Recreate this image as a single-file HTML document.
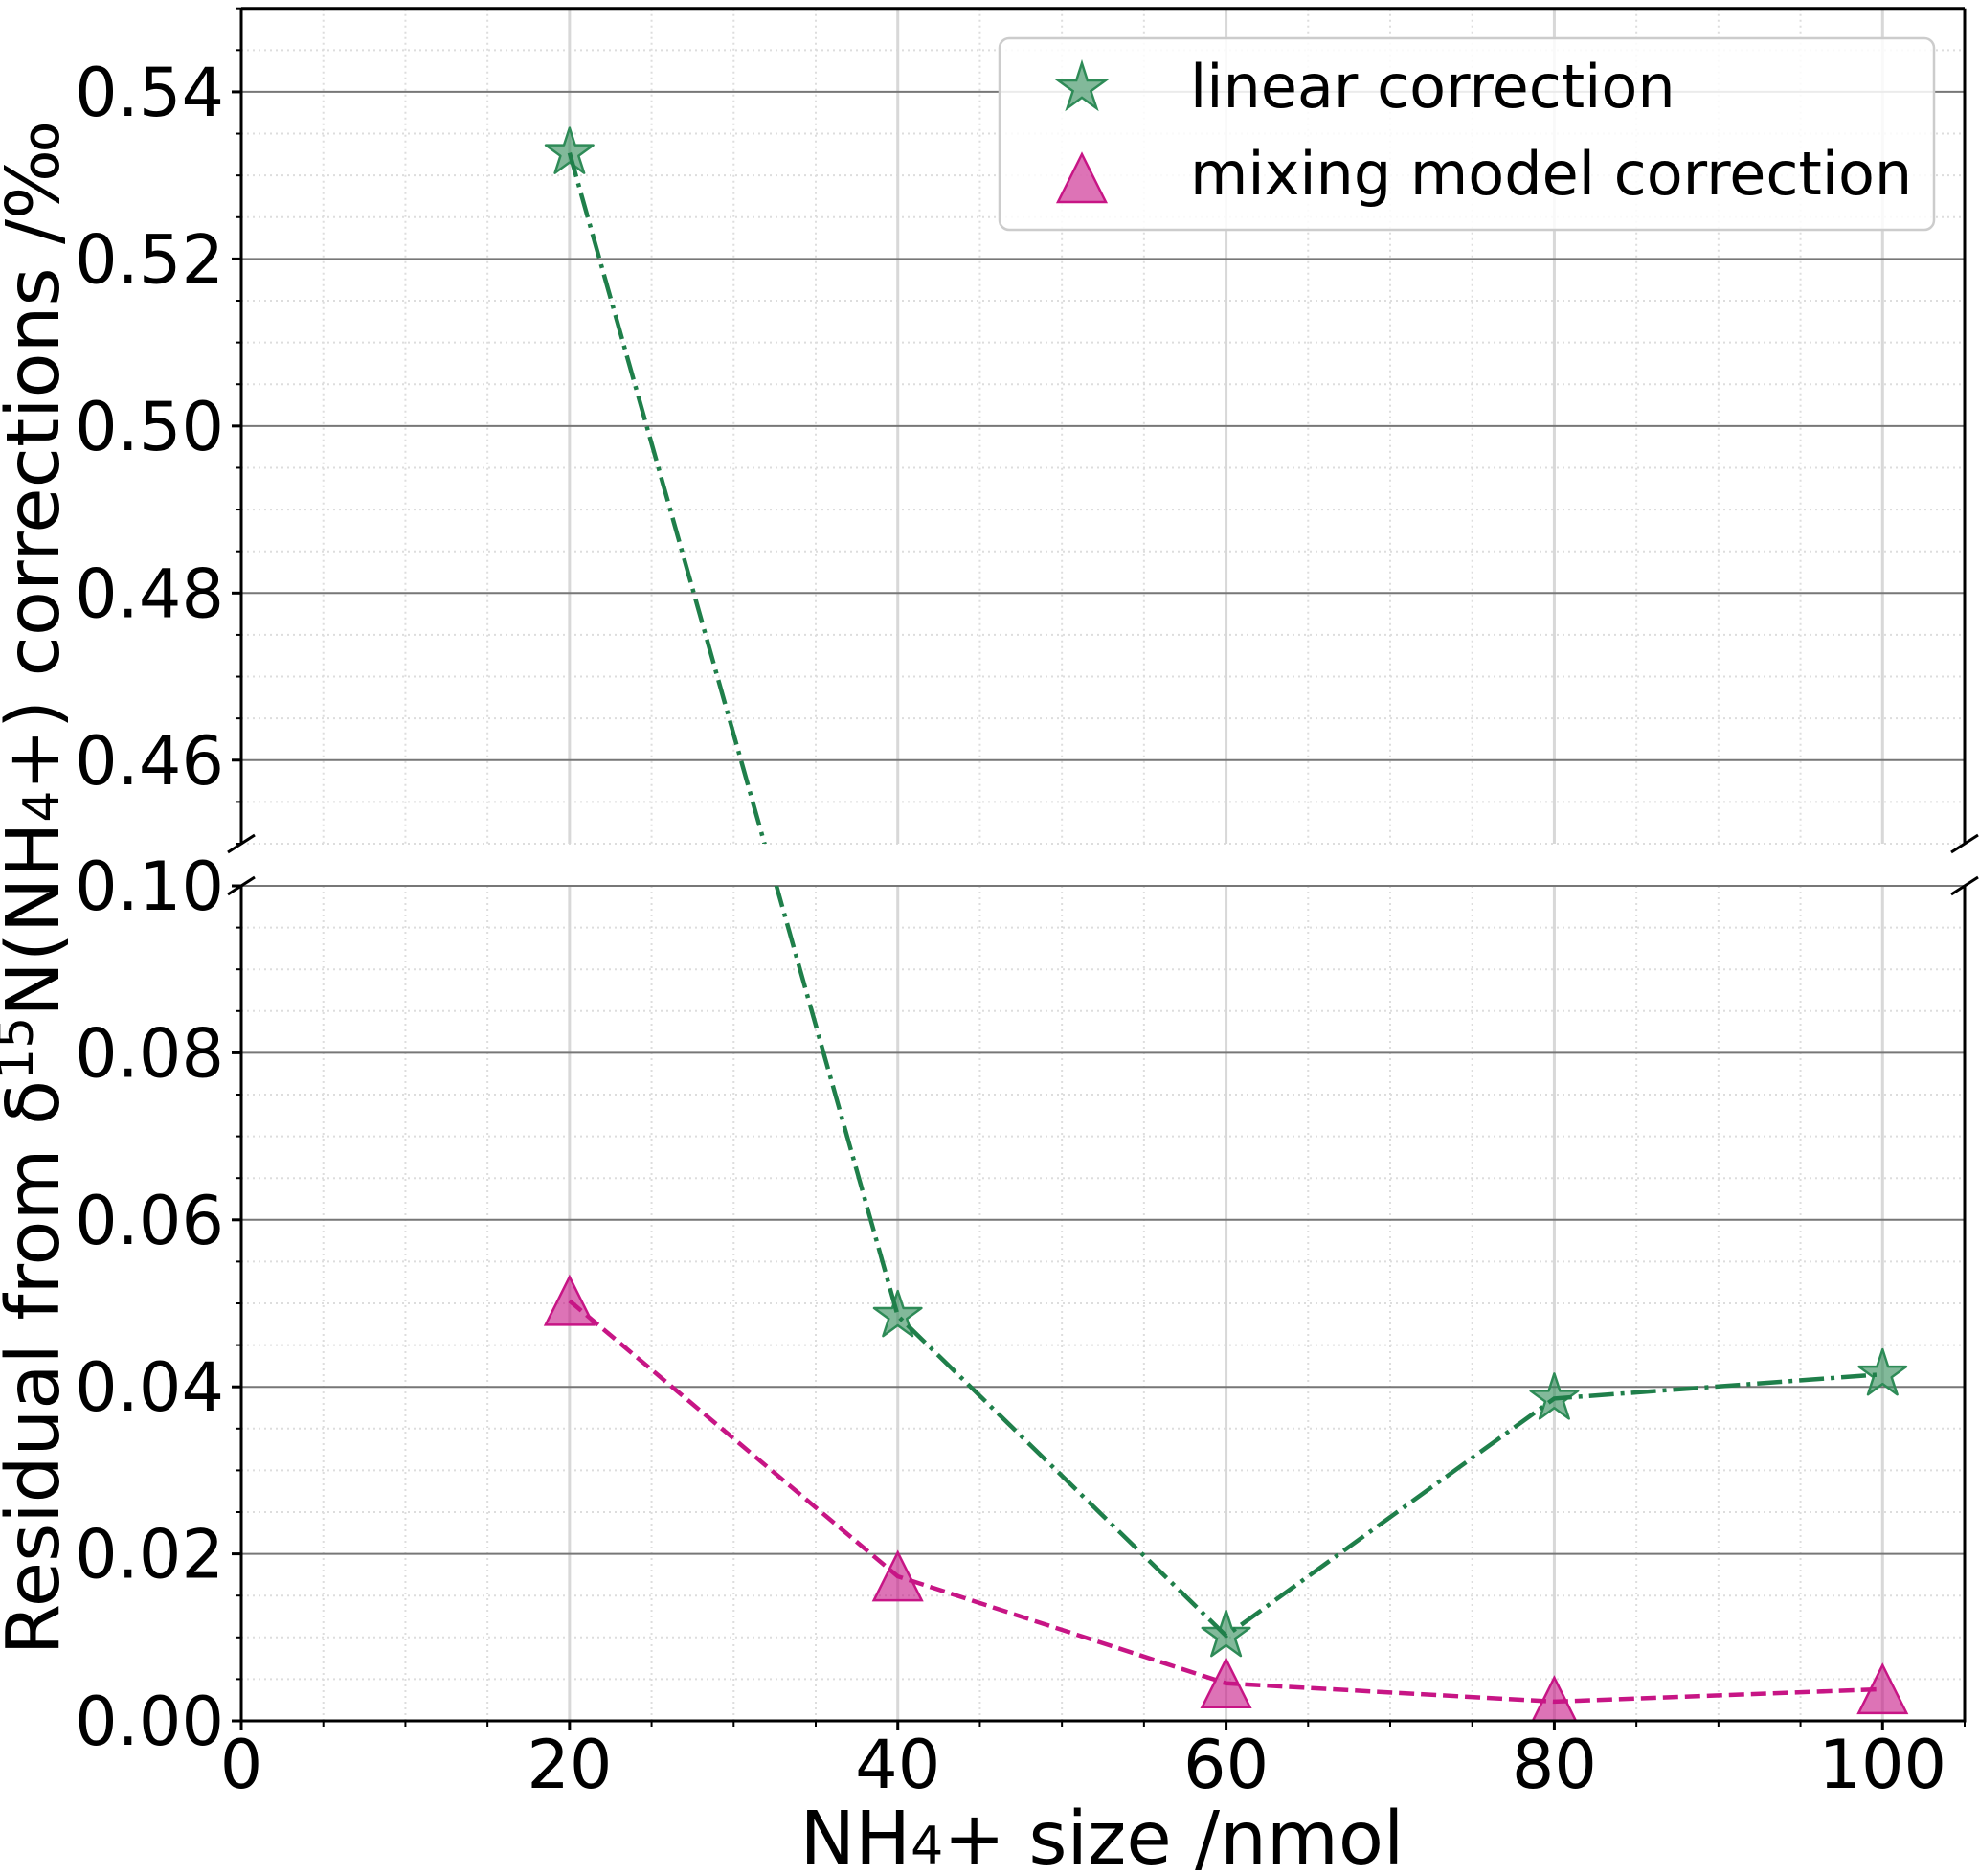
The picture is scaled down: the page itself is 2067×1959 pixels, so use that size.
<!DOCTYPE html>
<html><head><meta charset="utf-8"><style>
html,body{margin:0;padding:0;background:#fff;overflow:hidden;width:2067px;height:1959px}
svg{display:block}
text{font-family:"DejaVu Sans","Liberation Sans",sans-serif;fill:#000}
</style></head><body>
<svg id="chart" width="2067" height="1959" viewBox="0 0 2067 1959" xmlns="http://www.w3.org/2000/svg">
<defs>
<clipPath id="clipU"><rect x="252" y="8.7" width="1800" height="872.3"/></clipPath>
<clipPath id="clipL"><rect x="252" y="925" width="1800" height="872"/></clipPath>
</defs>
<g id="grid"></g>
<g id="series"></g>
<g id="axes"></g>
<text font-size="77" text-anchor="middle" transform="translate(61,927) rotate(-90)">Residual from δ<tspan font-size="52" dy="-27">15</tspan><tspan dy="27">N(NH</tspan><tspan font-size="52">4</tspan>+) corrections /‰</text>
<text font-size="77" text-anchor="middle" x="1151" y="1946">NH<tspan font-size="54">4</tspan>+ size /nmol</text>
<g>
<rect x="1044" y="40" width="976" height="200" rx="10" fill="#fff" fill-opacity="0.85" stroke="#ccc" stroke-width="2.5"/>
<g>
<path id="legStar" fill="#2e8b57" fill-opacity="0.6" stroke="#2e8b57" stroke-width="2.5"/>
<text font-size="62" x="1243" y="112">linear correction</text>
</g>
<g>
<path id="legTri" fill="#c71585" fill-opacity="0.6" stroke="#c71585" stroke-width="2.5"/>
<text font-size="62" x="1243" y="203">mixing model correction</text>
</g>
</g>
</svg>
<script>
const categories = [20, 40, 60, 80, 100];
const linearValues = [0.5327, 0.0485, 0.0102, 0.0386, 0.0415];
const mixingValues = [0.0503, 0.0173, 0.0045, 0.0023, 0.0038];
const xTickLabels = ["0", "20", "40", "60", "80", "100"];
const upperTickLabels = ["0.46", "0.48", "0.50", "0.52", "0.54"];
const lowerTickLabels = ["0.00", "0.02", "0.04", "0.06", "0.08", "0.10"];

const NS = "http://www.w3.org/2000/svg";
const X0 = 252, X1 = 2052, XMIN = 0, XMAX = 105;
const UT = 8.7, UB = 881, UMIN = 0.45, UMAX = 0.55;
const LT = 925, LB = 1797, LMIN = 0, LMAX = 0.10;
function xs(v){ return X0 + (v - XMIN) / (XMAX - XMIN) * (X1 - X0); }
function yu(v){ return UB - (v - UMIN) / (UMAX - UMIN) * (UB - UT); }
function yl(v){ return LB - (v - LMIN) / (LMAX - LMIN) * (LB - LT); }
function yb(v){ return v >= (UMIN + LMAX) / 2 ? yu(v) : yl(v); }
function mk(tag, attrs, parent){
  const e = document.createElementNS(NS, tag);
  for (const k in attrs) e.setAttribute(k, attrs[k]);
  parent.appendChild(e); return e;
}
const grid = document.getElementById('grid');
const series = document.getElementById('series');
const axes = document.getElementById('axes');

for (let v = 0; v <= 105; v += 5) {
  if (v % 20 === 0) continue;
  [[UT,UB],[LT,LB]].forEach(p => {
    const l = mk('line', {x1: xs(v), x2: xs(v), y1: p[0], y2: p[1], stroke: '#ddd', 'stroke-width': 2, 'stroke-dasharray': '2,4'}, grid);
    
    
  });
}
for (let i = 0; i <= 20; i++) {
  const vu = UMIN + i * 0.005, vl = LMIN + i * 0.005;
  if (Math.round(vu * 1000) % 20 !== 0) {
    const l = mk('line', {x1: X0, x2: X1, y1: yu(vu), y2: yu(vu), stroke: '#ddd', 'stroke-width': 2, 'stroke-dasharray': '2,4'}, grid);
    
    
  }
  if (Math.round(vl * 1000) % 20 !== 0) {
    const l = mk('line', {x1: X0, x2: X1, y1: yl(vl), y2: yl(vl), stroke: '#ddd', 'stroke-width': 2, 'stroke-dasharray': '2,4'}, grid);
    
    
  }
}
xTickLabels.forEach(t => {
  const v = +t;
  [[UT,UB],[LT,LB]].forEach(p => {
    const l = mk('line', {x1: xs(v), x2: xs(v), y1: p[0], y2: p[1], stroke: '#d8d8d8', 'stroke-width': 3}, grid);
    
    
  });
});
upperTickLabels.forEach(t => {
  const l = mk('line', {x1: X0, x2: X1, y1: yu(+t), y2: yu(+t), stroke: '#777', 'stroke-width': 2}, grid);
  
  
});
lowerTickLabels.forEach(t => {
  const l = mk('line', {x1: X0, x2: X1, y1: yl(+t), y2: yl(+t), stroke: '#777', 'stroke-width': 2}, grid);
  
  
});

function starPath(cx, cy, R){
  const r = R * 0.381966; let d = '';
  for (let i = 0; i < 10; i++) {
    const a = -Math.PI/2 + i * Math.PI/5, rr = i % 2 ? r : R;
    d += (i ? 'L' : 'M') + (cx + rr*Math.cos(a)).toFixed(1) + ',' + (cy + rr*Math.sin(a)).toFixed(1);
  }
  return d + 'Z';
}
function triPath(cx, cy, h){
  return 'M' + cx + ',' + (cy - h) + 'L' + (cx - h) + ',' + (cy + h) + 'L' + (cx + h) + ',' + (cy + h) + 'Z';
}
const ptsL = categories.map((c, i) => xs(c).toFixed(1) + ',' + yb(linearValues[i]).toFixed(1)).join(' ');
const ptsM = categories.map((c, i) => xs(c).toFixed(1) + ',' + yb(mixingValues[i]).toFixed(1)).join(' ');
[['clipU', 'upper'], ['clipL', 'lower']].forEach(([clip, nm]) => {
  const g = mk('g', {'clip-path': 'url(#' + clip + ')'}, series);
  
  
  categories.forEach((c, i) => {
    const s = mk('path', {d: starPath(xs(c), yb(linearValues[i]), 26), fill: '#2e8b57', 'fill-opacity': 0.6, stroke: '#2e8b57', 'stroke-width': 2.5, 'stroke-linejoin': 'round'}, g);
    
    
  });
  categories.forEach((c, i) => {
    const t = mk('path', {d: triPath(xs(c), yb(mixingValues[i]), 25), fill: '#c71585', 'fill-opacity': 0.6, stroke: '#c71585', 'stroke-width': 2.5}, g);
    
    
  });
  const lm = mk('polyline', {points: ptsM, fill: 'none', stroke: '#c71585', 'stroke-width': 4.5, 'stroke-dasharray': '16,7'}, g);
  
  
  const ll = mk('polyline', {points: ptsL, fill: 'none', stroke: '#1f7f4a', 'stroke-width': 4.5, 'stroke-dasharray': '26,7,4,7'}, g);
  
  
});

function spine(x1,y1,x2,y2,name){
  const l = mk('line', {x1, y1, x2, y2, stroke: '#000', 'stroke-width': 3}, axes);
  
  
}
spine(X0, UT, X0, UB, 'upper-left-spine');
spine(X1, UT, X1, UB, 'upper-right-spine');
spine(X0, UT, X1, UT, 'upper-top-spine');
spine(X0, LT, X0, LB, 'lower-left-spine');
spine(X1, LT, X1, LB, 'lower-right-spine');
spine(X0 - 1.5, LB, X1 + 1.5, LB, 'x-axis-line');
[[X0,UB],[X1,UB],[X0,LT],[X1,LT]].forEach(p => {
  const l = mk('line', {x1: p[0]-14, y1: p[1]+9, x2: p[0]+14, y2: p[1]-9, stroke: '#000', 'stroke-width': 3}, axes);
  
  
});
for (let v = 0; v <= 105; v += 5) {
  const major = v % 20 === 0;
  const l = mk('line', {x1: xs(v), x2: xs(v), y1: LB, y2: LB + (major ? 10 : 6), stroke: '#000', 'stroke-width': major ? 3 : 2}, axes);
  
  
}
xTickLabels.forEach(t => {
  const e = mk('text', {x: xs(+t), y: 1867, 'font-size': 70, 'text-anchor': 'middle'}, axes);
  e.textContent = t;
  
  
});
for (let i = 0; i <= 20; i++) {
  const vu = UMIN + i * 0.005, vl = LMIN + i * 0.005;
  const mu = Math.round(vu * 1000) % 20 === 0, ml = Math.round(vl * 1000) % 20 === 0;
  const a = mk('line', {x1: X0 - (mu ? 10 : 6), x2: X0, y1: yu(vu), y2: yu(vu), stroke: '#000', 'stroke-width': mu ? 3 : 2}, axes);
  
  
  const b = mk('line', {x1: X0 - (ml ? 10 : 6), x2: X0, y1: yl(vl), y2: yl(vl), stroke: '#000', 'stroke-width': ml ? 3 : 2}, axes);
  
  
}
upperTickLabels.forEach(t => {
  const e = mk('text', {x: 234, y: yu(+t) + 25, 'font-size': 70, 'text-anchor': 'end'}, axes);
  e.textContent = t;
  
  
});
lowerTickLabels.forEach(t => {
  const e = mk('text', {x: 234, y: yl(+t) + 25, 'font-size': 70, 'text-anchor': 'end'}, axes);
  e.textContent = t;
  
  
});
document.getElementById('legStar').setAttribute('d', starPath(1130, 92, 26));
document.getElementById('legTri').setAttribute('d', triPath(1130, 186, 25));
</script>
</body></html>
